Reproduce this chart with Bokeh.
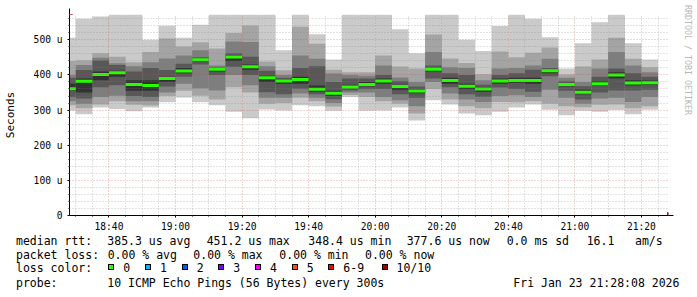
import pandas as pd
from bokeh.plotting import figure
from bokeh.layouts import column, row
from bokeh.models import (Range1d, FixedTicker, DatetimeTickFormatter, Arrow, NormalHead, Div)
from bokeh.embed import file_html
from bokeh.resources import INLINE

# ---------------- data ----------------
# 5-minute RRD rows (start of each row); the first one is partly outside the 3h window
step_start = list(pd.date_range("2026-01-23 18:25", periods=36, freq="5min"))
step_end = [t + pd.Timedelta(minutes=5) for t in step_start]

# the 10 sorted ping RTTs per row (microseconds), ping10 = slowest, ping1 = fastest
ping10 = [506, 560, 566, 572, 572, 500, 540, 506, 543, 572, 572, 572, 572, 470, 572, 516, 444, 572,
          572, 572, 530, 462, 572, 572, 500, 468, 539, 572, 560, 507, 418, 490, 550, 572, 490, 444]
ping9 = [440, 442, 462, 452, 436, 465, 504, 481, 493, 475, 519, 541, 438, 413, 537, 489, 415, 408,
         408, 455, 424, 418, 515, 447, 434, 402, 467, 450, 463, 478, 401, 424, 444, 506, 446, 422]
ping8 = [400, 428, 449, 433, 425, 436, 447, 455, 470, 427, 495, 494, 425, 400, 455, 446, 404, 400,
         398, 427, 393, 380, 465, 422, 420, 385, 418, 420, 427, 446, 392, 380, 418, 465, 427, 408]
ping7 = [392, 414, 441, 428, 410, 420, 414, 432, 450, 422, 462, 452, 412, 392, 420, 425, 380, 390,
         390, 400, 382, 367, 427, 405, 400, 372, 400, 405, 415, 420, 382, 368, 395, 418, 405, 395]
ping6 = [375, 390, 410, 412, 385, 385, 395, 420, 446, 419, 457, 430, 398, 388, 395, 370, 355, 372,
         380, 390, 372, 360, 420, 392, 375, 365, 390, 392, 392, 415, 377, 358, 382, 408, 385, 384]
median = [361, 382, 401, 406, 373, 370, 390, 411, 443, 416, 451, 423, 392, 383, 387, 359, 348, 366,
          373, 383, 367, 354, 416, 384, 368, 360, 383, 384, 384, 412, 373, 351, 375, 400, 377, 378]
ping5 = [355, 350, 385, 395, 355, 355, 380, 405, 438, 410, 440, 415, 380, 375, 375, 352, 340, 362,
         368, 375, 358, 348, 410, 375, 360, 352, 375, 378, 375, 405, 368, 345, 370, 390, 370, 372]
ping4 = [337, 333, 365, 371, 340, 337, 367, 395, 430, 400, 423, 400, 351, 345, 361, 345, 331, 356,
         360, 360, 345, 335, 390, 365, 345, 338, 364, 360, 352, 396, 355, 330, 350, 356, 356, 358]
ping3 = [325, 318, 337, 341, 325, 325, 350, 375, 362, 356, 400, 371, 335, 335, 347, 335, 320, 350,
         350, 337, 328, 311, 380, 347, 330, 323, 340, 342, 337, 358, 335, 318, 333, 335, 323, 337]
ping2 = [314, 305, 316, 325, 315, 313, 340, 355, 341, 330, 365, 350, 318, 320, 335, 325, 310, 343,
         337, 325, 318, 290, 360, 330, 311, 305, 323, 322, 325, 318, 311, 308, 315, 316, 305, 311]
ping1 = [299, 288, 307, 303, 297, 307, 322, 336, 322, 314, 295, 277, 302, 299, 314, 311, 298, 337,
         298, 299, 307, 270, 328, 316, 290, 285, 295, 307, 316, 301, 285, 298, 295, 300, 288, 301]
loss = [0, 0, 0, 0, 0, 0, 0, 0, 0, 0, 0, 0, 0, 0, 0, 0, 0, 0,
        0, 0, 0, 0, 0, 0, 0, 0, 0, 0, 0, 0, 0, 0, 0, 0, 0, 0]

y_ticks = [0, 100, 200, 300, 400, 500]
y_tick_labels = ["0", "100 u", "200 u", "300 u", "400 u", "500 u"]
y_top = 572

window_start = pd.Timestamp("2026-01-23 18:28:08")
window_end = pd.Timestamp("2026-01-23 21:28:08")

loss_names = ["0", "1", "2", "3", "4", "5", "6-9", "10/10"]
loss_colors = ["#26ff00", "#00b8ff", "#0059ff", "#7e00ff", "#ff00ff", "#ff5500", "#ff0000", "#a10000"]

med_avg, med_max, med_min, med_now, sd, am_s = 385.3, 451.2, 348.4, 377.6, 0.0, 16.1
loss_avg, loss_max, loss_min, loss_now = 0.00, 0.00, 0.00, 0.00
probe_text = "10 ICMP Echo Pings (56 Bytes) every 300s"
stamp_text = "Fri Jan 23 21:28:08 2026"
credit_text = "RRDTOOL / TOBI OETIKER"


def ms(t):
    return pd.Timestamp(t).value / 1e6


left = [ms(t) for t in step_start]
right = [ms(t) for t in step_end]

MONO = "DejaVu Sans Mono"

# page geometry: chart 676 x 235, credit strip 21 x 235, legend strip 697 x 62
FIG_W, FIG_H = 676, 235
FL, FR, FT, FB = 67, 668, 14, 215          # frame edges in page pixels
X0, X1 = ms(window_start), ms(window_end)


def dx(px):  # page pixel x -> data x (for arrow ends outside the frame)
    return X0 + (px - FL) * (X1 - X0) / (FR - FL)


def dy(py):  # page pixel y -> data y
    return (FB - py) * y_top / (FB - FT)


p = figure(width=FIG_W, height=FIG_H, output_backend="svg", toolbar_location=None,
           x_axis_type="datetime",
           x_range=Range1d(X0, X1), y_range=Range1d(0, y_top),
           min_border_left=FL, min_border_right=FIG_W - FR, min_border_top=FT,
           min_border_bottom=FIG_H - FB, margin=(0, 0, 0, 0))
p.outline_line_color = None
p.background_fill_color = "white"
p.border_fill_color = "white"

# smoke bands (outer = lighter)
bands = [(ping1, ping10, "#cacaca"), (ping2, ping9, "#a4a4a4"), (ping3, ping8, "#7e7e7e"),
         (ping4, ping7, "#585858"), (ping5, ping6, "#323232")]
for lo, hi, col in bands:
    p.quad(left=left, right=right, bottom=lo, top=hi, fill_color=col, line_color=None)

# median line coloured by loss
med_cols = [loss_colors[min(l, 7)] for l in loss]
p.segment(x0=left, x1=right, y0=median, y1=median, line_color=med_cols, line_width=3)

# ---- axes ----
major_x = [ms(t) for t in pd.date_range("2026-01-23 18:40", "2026-01-23 21:20", freq="20min")]
minor_x = [ms(t) for t in pd.date_range("2026-01-23 18:30", "2026-01-23 21:25", freq="5min")]
minor_x = [v for v in minor_x if v not in major_x]
xa = p.xaxis[0]
xa.ticker = FixedTicker(ticks=major_x, minor_ticks=minor_x)
fmt = "%H:%M"
xa.formatter = DatetimeTickFormatter(microseconds=fmt, milliseconds=fmt, seconds=fmt, minsec=fmt,
                                     minutes=fmt, hourmin=fmt, hours=fmt, days=fmt,
                                     months=fmt, years=fmt)

minor_y = [v for v in range(20, 580, 20) if v % 100 != 0]
ya = p.yaxis[0]
ya.ticker = FixedTicker(ticks=y_ticks, minor_ticks=minor_y)
ya.major_label_overrides = {t: s for t, s in zip(y_ticks, y_tick_labels)}
ya.axis_label = "Seconds"
ya.axis_label_text_font = MONO
ya.axis_label_text_font_size = "11px"
ya.axis_label_text_font_style = "normal"
ya.axis_label_text_color = "#000000"
ya.axis_label_standoff = 14

for ax in (xa, ya):
    ax.axis_line_color = "#000000"
    ax.major_tick_line_color = "#000000"
    ax.minor_tick_line_color = "#000000"
    ax.major_tick_out = 2
    ax.major_tick_in = 0
    ax.minor_tick_out = 1
    ax.minor_tick_in = 0
    ax.major_label_text_font = MONO
    ax.major_label_text_font_size = "9.6px"
    ax.major_label_text_color = "#000000"
xa.major_label_standoff = 3
ya.major_label_standoff = 5

for g in (p.xgrid[0], p.ygrid[0]):
    g.grid_line_color = "#c04040"
    g.grid_line_alpha = 0.45
    g.grid_line_dash = "1 2"
    g.minor_grid_line_color = "#808080"
    g.minor_grid_line_alpha = 0.45
    g.minor_grid_line_dash = "1 2"
    g.level = "annotation"

# axis arrows (rrdtool style)
head_col = "#8b1010"
p.add_layout(Arrow(x_start=X0, y_start=y_top, x_end=X0, y_end=dy(8),
                   line_color="#000000", line_width=1, level="overlay",
                   end=NormalHead(size=6, fill_color=head_col, line_color=head_col)))
p.add_layout(Arrow(x_start=dx(63), y_start=0, x_end=dx(673), y_end=0,
                   line_color="#000000", line_width=1, level="overlay",
                   end=NormalHead(size=6, fill_color=head_col, line_color=head_col)))

# ---- credit strip (right) ----
credit_html = (
    f'<div style="position:relative;width:{697 - FIG_W}px;height:{FIG_H}px;">'
    f'<span style="position:absolute;left:7px;top:5px;writing-mode:vertical-rl;'
    f"font-family:'{MONO}';font-size:8.3px;line-height:10px;color:#b8b8b8;white-space:pre;\">"
    f'{credit_text}</span></div>'
)
credit = Div(text=credit_html, width=697 - FIG_W, height=FIG_H, margin=(0, 0, 0, 0))

# ---- legend strip (below) ----
LEG_TOP = FIG_H
LH = 10
spans = []


def txt(x, yc, s):
    spans.append(f'<span style="position:absolute;left:{x:.1f}px;top:{yc - LEG_TOP - LH / 2:.1f}px;'
                 f'line-height:{LH}px;white-space:pre;">{s}</span>')


r1, r2, r3, r4 = 240.7, 255.3, 268.0, 282.7
txt(16, r1, "median rtt:")
txt(107.3, r1, f"{med_avg:.1f} us avg")
txt(206.7, r1, f"{med_max:.1f} us max")
txt(308.3, r1, f"{med_min:.1f} us min")
txt(406.7, r1, f"{med_now:.1f} us now")
txt(506.7, r1, f"{sd:.1f} ms sd")
txt(586.7, r1, f"{am_s:.1f}")
txt(635.0, r1, "am/s")

txt(16, r2, "packet loss:")
txt(107.7, r2, f"{loss_avg:.2f} % avg")
txt(193.3, r2, f"{loss_max:.2f} % max")
txt(279.3, r2, f"{loss_min:.2f} % min")
txt(365.0, r2, f"{loss_now:.2f} % now")

txt(16, r3, "loss color:")
sq_left = [108.3, 145.0, 181.7, 218.3, 255.0, 291.7, 328.3, 381.5]
for xl, name, col in zip(sq_left, loss_names, loss_colors):
    spans.append(f'<span style="position:absolute;left:{xl:.1f}px;top:{263.5 - LEG_TOP:.1f}px;'
                 f'width:6px;height:6px;border:1px solid #000;background:{col};"></span>')
    txt(xl + 15, r3, name)

txt(16, r4, "probe:")
txt(107.3, r4, probe_text)
txt(513.3, r4, stamp_text)

legend_html = (f"<div style=\"position:relative;width:697px;height:{297 - FIG_H}px;"
               f"font-family:'{MONO}';font-size:11.5px;color:#000;\">" + "".join(spans) + "</div>")
legend = Div(text=legend_html, width=697, height=297 - FIG_H, margin=(0, 0, 0, 0))

layout = column(row(p, credit, spacing=0), legend, spacing=0)

open("out.html", "w").write(file_html(layout, INLINE))
